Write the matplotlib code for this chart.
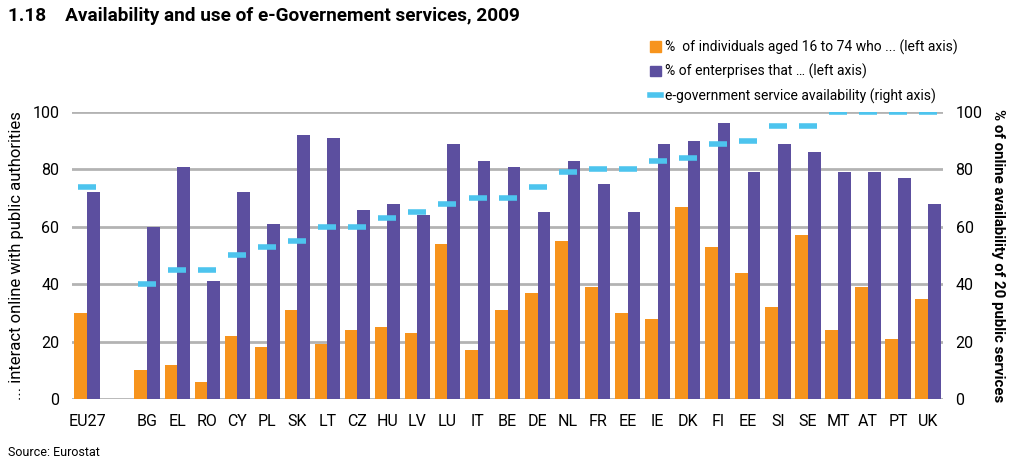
import numpy as np
import matplotlib.pyplot as plt
from matplotlib.lines import Line2D
from matplotlib.patches import Patch

countries = ['EU27', 'BG', 'EL', 'RO', 'CY', 'PL', 'SK', 'LT', 'CZ', 'HU', 'LV', 'LU', 'IT',
             'BE', 'DE', 'NL', 'FR', 'EE', 'IE', 'DK', 'FI', 'EE', 'SI', 'SE', 'MT', 'AT', 'PT', 'UK']
individuals = [30, 10, 12, 6, 22, 18, 31, 19, 24, 25, 23, 54, 17,
               31, 37, 55, 39, 30, 28, 67, 53, 44, 32, 57, 24, 39, 21, 35]
enterprises = [72, 60, 81, 41, 72, 61, 92, 91, 66, 68, 64, 89, 83,
               81, 65, 83, 75, 65, 89, 90, 96, 79, 89, 86, 79, 79, 77, 68]
availability = [74, 40, 45, 45, 50, 53, 55, 60, 60, 63, 65, 68, 70,
                70, 74, 79, 80, 80, 83, 84, 89, 90, 95, 95, 100, 100, 100, 100]

orange = '#F7941D'
purple = '#5C4F9F'
cyan = '#4DC4EE'
grid = '#B3B3B3'

plt.rcParams['font.family'] = ['Roboto', 'DejaVu Sans']

# empty slot after EU27
n = len(countries)
x = np.arange(n) + (np.arange(n) > 0)
w = 0.42

fig = plt.figure(figsize=(10.24, 4.66), dpi=100)
ax = fig.add_axes([0.0703, 0.1438, 0.8507, 0.6159])
ax2 = ax.twinx()

ax.bar(x - w / 2, individuals, w, color=orange, zorder=3)
ax.bar(x + w / 2, enterprises, w, color=purple, zorder=3)
ax2.plot(x, availability, ls='none', marker='_', markersize=12.5, markeredgewidth=4,
         color=cyan, zorder=4)

for a in (ax, ax2):
    a.set_ylim(0, 100)
    a.set_yticks(range(0, 101, 20))
    for s in a.spines.values():
        s.set_visible(False)
    a.tick_params(length=0, labelsize=11.5, pad=9)
ax.set_xlim(-0.5, 28.5)
ax.set_xticks(x)
ax.set_xticklabels(countries, fontsize=11.5)
ax.tick_params(axis='x', pad=11)
ax.yaxis.grid(True, color=grid, lw=2)
ax.set_axisbelow(True)

ax.set_ylabel('... interact online with public authorities', fontsize=12, labelpad=6)
ax2.set_ylabel('% of online availability of 20 public services', fontsize=10.8,
               rotation=270, labelpad=16, fontweight='bold')

fig.text(0.008, 0.965, '1.18    Availability and use of e-Governement services, 2009',
         fontsize=13.7, fontweight='bold', va='center')
fig.text(0.008, 0.028, 'Source: Eurostat', fontsize=9, va='center')

handles = [Patch(color=orange), Patch(color=purple),
           Line2D([], [], color=cyan, lw=4)]
labels = ['%  of individuals aged 16 to 74 who ... (left axis)',
          '% of enterprises that … (left axis)',
          'e-government service availability (right axis)']
fig.legend(handles, labels, loc='upper left', bbox_to_anchor=(0.628, 0.93),
           frameon=False, fontsize=10, handlelength=0.8, handleheight=0.8,
           handletextpad=0.3, labelspacing=0.65, borderpad=0)

fig.savefig('out.png', dpi=100)
